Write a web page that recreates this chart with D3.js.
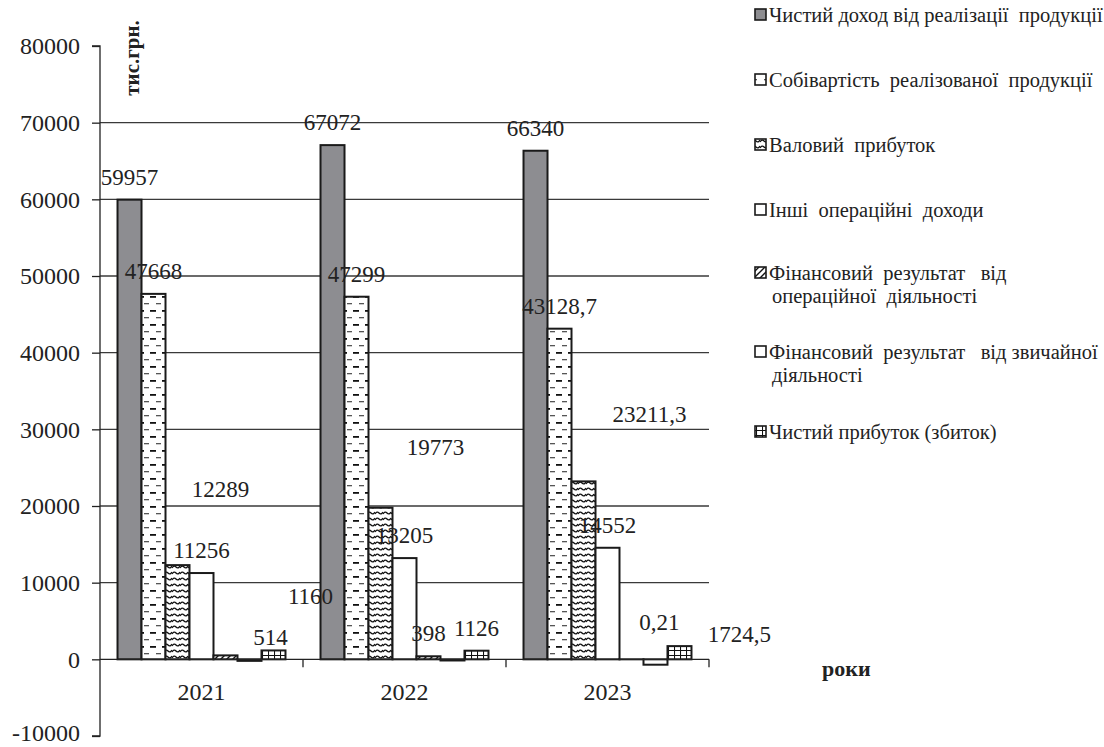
<!DOCTYPE html>
<html>
<head>
<meta charset="utf-8">
<script src="https://cdn.jsdelivr.net/npm/d3@7"></script>
<style>
  html, body { margin: 0; padding: 0; background: #fff; }
  svg { display: block; font-family: "Liberation Serif", "Times New Roman", serif; }
  .pre { white-space: pre; }
</style>
</head>
<body>
<svg id="chart" width="1104" height="747"></svg>
<script>
// ---- data (тис. грн.) ----
const years = ["2021", "2022", "2023"];
const seriesNames = [
  ["Чистий доход від реалізації  продукції"],
  ["Собівартість  реалізованої  продукції"],
  ["Валовий  прибуток"],
  ["Інші  операційні  доходи"],
  ["Фінансовий  результат   від", "операційної  діяльності"],
  ["Фінансовий  результат   від звичайної", "діяльності"],
  ["Чистий прибуток (збиток)"]
];
const revenue      = [59957, 67072, 66340];
const costOfSales  = [47668, 47299, 43128.7];
const grossProfit  = [12289, 19773, 23211.3];
const otherIncome  = [11256, 13205, 14552];
const operResult   = [514, 398, 0.21];
const ordinaryRes  = [-200, -150, -700];   // not labelled
const netProfit    = [1160, 1126, 1724.5];
const yTicks = [-10000, 0, 10000, 20000, 30000, 40000, 50000, 60000, 70000, 80000];

const seriesValues = [revenue, costOfSales, grossProfit, otherIncome, operResult, ordinaryRes, netProfit];
const labelled     = [true, true, true, true, true, false, true];

// ---- layout ----
const svg = d3.select("#chart");
const X0 = 100, X1 = 709;
const y = d3.scaleLinear().domain([-10000, 80000]).range([736, 46]);
const x0 = d3.scaleBand().domain(years).range([X0, X1]).padding(0);
const x1 = d3.scaleBand().domain(d3.range(7)).range([0, x0.bandwidth()])
  .paddingInner(0).paddingOuter(0.73);

// manual nudges of some data labels [series][year] -> [dx, dy]
const labelShift = {
  "2-0": [43, -53], "4-0": [45, 5], "6-0": [37, -31],
  "2-1": [55, -38],
  "2-2": [66, -44], "4-2": [28, -14], "6-2": [60, 11]
};

// ---- fill patterns ----
const defs = svg.append("defs");
function pattern(id, w, h, draw) {
  const p = defs.append("pattern").attr("id", id)
    .attr("patternUnits", "userSpaceOnUse").attr("width", w).attr("height", h);
  p.append("rect").attr("width", w).attr("height", h).attr("fill", "#fff");
  draw(p);
}
pattern("pDash", 12, 14, p => {
  p.append("rect").attr("x", 2).attr("y", 2).attr("width", 6).attr("height", 1.8).attr("fill", "#111");
  p.append("rect").attr("x", 8).attr("y", 9).attr("width", 5).attr("height", 1.3).attr("fill", "#555");
  p.append("rect").attr("x", -4).attr("y", 9).attr("width", 5).attr("height", 1.3).attr("fill", "#555");
});
pattern("pWave", 8, 6, p => {
  p.append("path").attr("d", "M0,4 Q2,0.8 4,3 T8,2")
    .attr("fill", "none").attr("stroke", "#111").attr("stroke-width", 1.3);
});
pattern("pDiag", 6, 6, p => {
  p.append("path").attr("d", "M0,6 L6,0 M-1,1 L1,-1 M5,7 L7,5")
    .attr("stroke", "#111").attr("stroke-width", 1.4);
});
pattern("pGrid", 6, 5, p => {
  p.append("path").attr("d", "M0,0.5 H6 M0.5,0 V5")
    .attr("stroke", "#111").attr("stroke-width", 1.1);
});
const fills = ["#8d8d91", "url(#pDash)", "url(#pWave)", "#fff", "url(#pDiag)", "#fff", "url(#pGrid)"];

// ---- gridlines ----
svg.append("g").selectAll("line").data(yTicks.filter(t => t > 0 && t < 80000)).join("line")
  .attr("x1", X0).attr("x2", X1)
  .attr("y1", d => y(d)).attr("y2", d => y(d))
  .attr("stroke", "#3a3a3a").attr("stroke-width", 1.3);

// ---- y axis ----
const yAxis = svg.append("g").attr("transform", `translate(${X0},0)`)
  .call(d3.axisLeft(y).tickValues(yTicks).tickSize(8).tickPadding(12).tickFormat(d => String(d)));
yAxis.select(".domain").attr("stroke", "#222").attr("stroke-width", 1.3).attr("d", `M-8,${y(80000)}H0V${y(-10000)}H-8`);
yAxis.selectAll(".tick line").attr("stroke", "#222").attr("stroke-width", 1.3);
yAxis.selectAll(".tick text").attr("font-size", 24).attr("fill", "#222")
  .attr("font-family", "Liberation Serif, Times New Roman, serif")
  .attr("dy", d => d === -10000 ? "0.2em" : "0.32em");

// ---- bars ----
const groups = svg.append("g").selectAll("g").data(years).join("g")
  .attr("transform", d => `translate(${x0(d)},0)`);
groups.selectAll("rect").data((yr, j) => seriesValues.map((s, i) => ({ i, j, v: s[j] }))).join("rect")
  .attr("x", d => x1(d.i))
  .attr("width", x1.bandwidth())
  .attr("y", d => y(Math.max(0, d.v)))
  .attr("height", d => Math.abs(y(d.v) - y(0)))
  .attr("fill", d => fills[d.i])
  .attr("stroke", "#1a1a1a").attr("stroke-width", 2);

// ---- x axis (zero line) ----
const xAxis = svg.append("g").attr("transform", `translate(0,${y(0)})`)
  .call(d3.axisBottom(x0).tickSize(0).tickPadding(24));
xAxis.select(".domain").attr("stroke", "#222").attr("stroke-width", 1.3).attr("d", `M${X0},0H${X1}`);
xAxis.selectAll(".tick text").attr("font-size", 24).attr("fill", "#222")
  .attr("font-family", "Liberation Serif, Times New Roman, serif");
svg.append("g").selectAll("line").data(years.slice(1).map(d => x0(d)).concat([X1])).join("line")
  .attr("x1", d => d).attr("x2", d => d)
  .attr("y1", y(0)).attr("y2", y(0) + 8)
  .attr("stroke", "#222").attr("stroke-width", 1.3);

// ---- data labels ----
const fmt = v => String(v).replace(".", ",");
const labels = [];
seriesValues.forEach((s, i) => s.forEach((v, j) => {
  if (!labelled[i]) return;
  const sh = labelShift[`${i}-${j}`] || [0, 0];
  labels.push({
    x: x0(years[j]) + x1(i) + x1.bandwidth() / 2 + sh[0],
    y: y(Math.max(0, v)) - 15 + sh[1],
    t: fmt(v)
  });
}));
svg.append("g").selectAll("text").data(labels).join("text")
  .attr("x", d => d.x).attr("y", d => d.y)
  .attr("text-anchor", "middle").attr("font-size", 23).attr("fill", "#222")
  .text(d => d.t);

// ---- axis titles ----
svg.append("text").attr("transform", "translate(139,58) rotate(-90)")
  .attr("text-anchor", "middle").attr("font-size", 21).attr("font-weight", "bold").attr("fill", "#222")
  .text("тис.грн.");
svg.append("text").attr("x", 822).attr("y", 676)
  .attr("font-size", 22).attr("font-weight", "bold").attr("fill", "#222")
  .text("роки");

// ---- legend ----
const legendRows = [15, 80, 145, 210, 273, 352, 432];
const lg = svg.append("g");
seriesNames.forEach((lines, i) => {
  const cy = legendRows[i];
  lg.append("rect").attr("x", 755).attr("y", cy - 6).attr("width", 11).attr("height", 11)
    .attr("fill", fills[i]).attr("stroke", "#1a1a1a").attr("stroke-width", 1.6);
  lines.forEach((ln, k) => {
    lg.append("text").attr("class", "pre")
      .attr("x", k === 0 ? 769 : 772).attr("y", cy + 7 + k * 23)
      .attr("font-size", 20.5).attr("fill", "#222")
      .text(ln);
  });
});
</script>
</body>
</html>
